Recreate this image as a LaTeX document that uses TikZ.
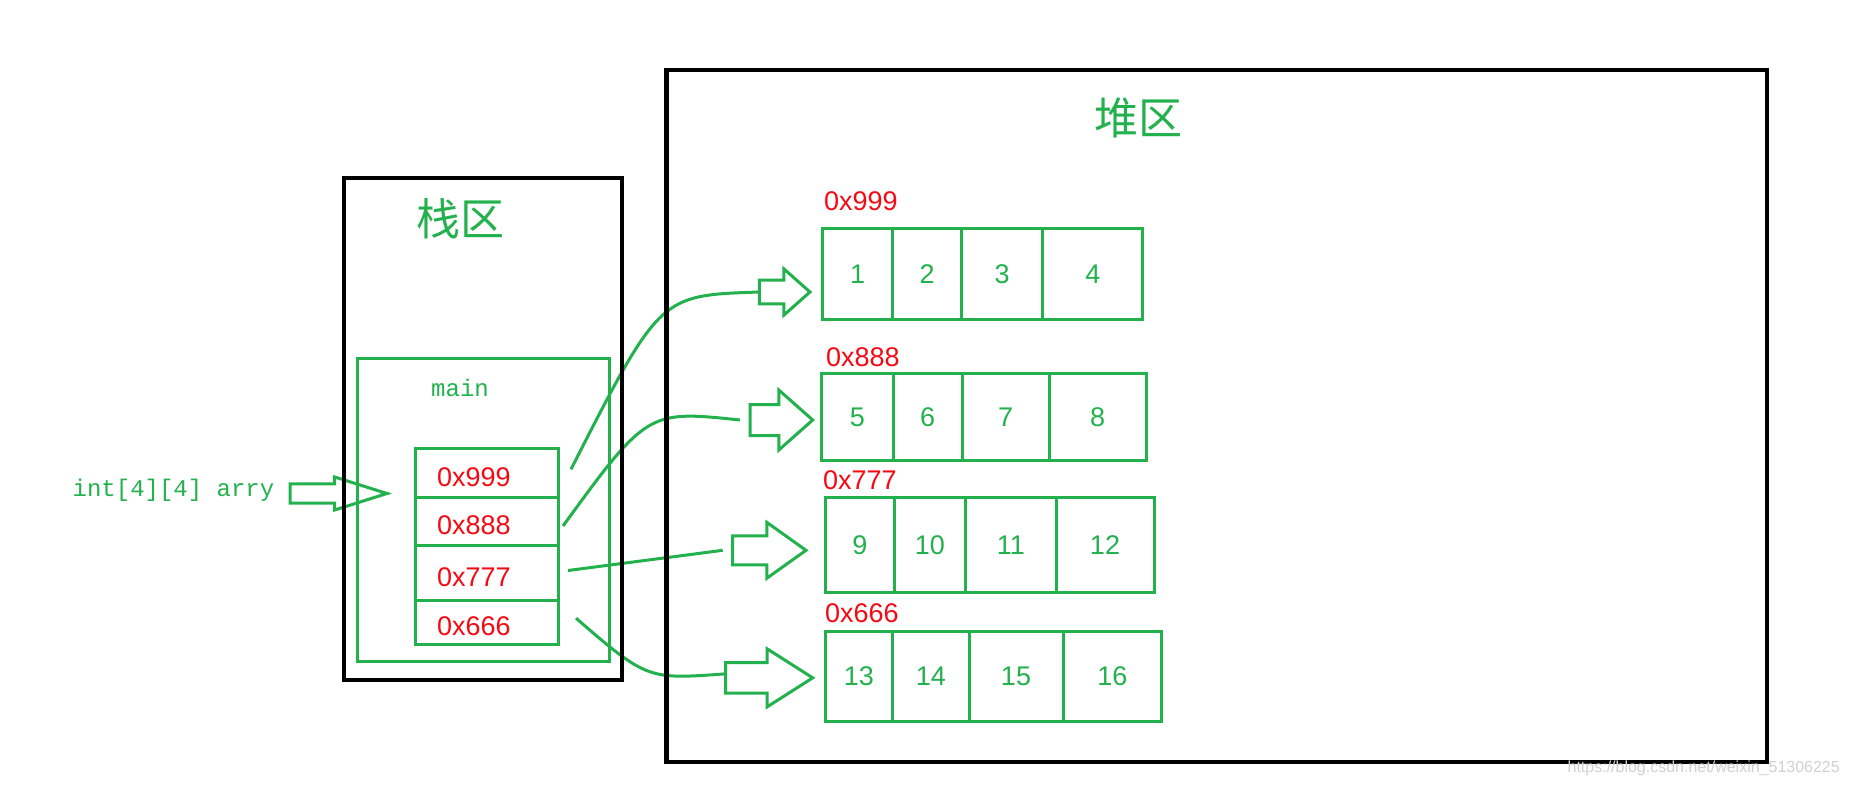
\documentclass[tikz,border=0pt]{standalone}
\usepackage{fontspec}
\setmainfont{Liberation Sans}
\setmonofont{Liberation Mono}
\newfontfamily\cjk{Noto Sans CJK SC}
\usepackage{tikz}
\usetikzlibrary{shapes, arrows}
\usetikzlibrary{positioning}
\definecolor{pgreen}{RGB}{34,177,76}
\definecolor{pred}{RGB}{245,10,20}
\tikzstyle{area} = [rectangle, draw = black, line width = 4.6, inner sep = 0,
  outer sep = 0, anchor = north west]
\tikzstyle{mainbox} = [rectangle, draw = pgreen, line width = 3, inner sep = 0,
  outer sep = 0, anchor = north west]
\tikzstyle{slot} = [
  rectangle, draw = pgreen, line width = 3,
  minimum width = 143, text width = 99, inner xsep = 22, inner ysep = 0,
  outer sep = 0, align = left, text height = 27, text depth = 0,
  text = pred, font = \fontsize{27}{32}\selectfont
]
\tikzstyle{memcell} = [rectangle, draw = pgreen, line width = 3, inner sep = 0,
  outer sep = 0, text = pgreen, font = \fontsize{27}{32}\selectfont]
\tikzstyle{addr} = [inner sep = 0, anchor = west, text = pred,
  font = \fontsize{27}{32}\selectfont]
\tikzstyle{title} = [inner sep = 0, text = pgreen, font = \cjk\fontsize{44}{50}\selectfont]
\tikzstyle{code} = [inner sep = 0, text = pgreen, font = \ttfamily\fontsize{24}{28}\selectfont]
\tikzstyle{fat} = [
  single arrow, draw = pgreen, line width = 3,
  inner sep = 0, outer sep = 0, single arrow head indent = 0, anchor = tail
]
\tikzstyle{link} = [draw = pgreen, line width = 3]

\begin{document}
\begin{tikzpicture}[x = 1pt, y = -1pt, node distance = 0]
      \fill [white] (0, 0) rectangle (1850, 787);
      \useasboundingbox (0, 0) rectangle (1850, 787);

      % stack side
      \node [title] (stack-title) at (460, 219) {栈区};
      \node [mainbox, minimum width = 252, minimum height = 303] (frame-main) at (357, 358) {};
      \node [code] (main-label) at (460, 388) {main};
      \node [slot, minimum height = 48.5, anchor = north west] (slot-1) at (415, 448.5) {0x999};
      \node [slot, minimum height = 48, below = 0pt of slot-1] (slot-2) {0x888};
      \node [slot, minimum height = 55, below = 0pt of slot-2] (slot-3) {0x777};
      \node [slot, minimum height = 44.3, below = 0pt of slot-3] (slot-4) {0x666};
      \node [code] (arry) at (173.5, 490) {int[4][4] arry};
      \node [fat, minimum height = 97, inner ysep = 8.2, single arrow head extend = 6.8,
        single arrow tip angle = 35] (fat-0) at (290, 493.5) {};

      % heap side
      \node [title] (heap-title) at (1138, 118) {堆区};
      % 0x999
      \node [addr] (addr-1) at (824, 201) {0x999};
      \node [memcell, minimum width = 70, minimum height = 90.6, anchor = north west] (cell-1-a) at (822.6, 228.8) {1};
      \node [memcell, minimum width = 68.9, minimum height = 90.6, right = 0pt of cell-1-a] (cell-1-b) {2};
      \node [memcell, minimum width = 81.2, minimum height = 90.6, right = 0pt of cell-1-b] (cell-1-c) {3};
      \node [memcell, minimum width = 100.1, minimum height = 90.6, right = 0pt of cell-1-c] (cell-1-d) {4};
      % 0x888
      \node [addr] (addr-2) at (826, 357) {0x888};
      \node [memcell, minimum width = 71.5, minimum height = 87.8, anchor = north west] (cell-2-a) at (821.5, 373) {5};
      \node [memcell, minimum width = 69, minimum height = 87.8, right = 0pt of cell-2-a] (cell-2-b) {6};
      \node [memcell, minimum width = 87, minimum height = 87.8, right = 0pt of cell-2-b] (cell-2-c) {7};
      \node [memcell, minimum width = 97, minimum height = 87.8, right = 0pt of cell-2-c] (cell-2-d) {8};
      % 0x777
      \node [addr] (addr-3) at (823, 480.5) {0x777};
      \node [memcell, minimum width = 68.3, minimum height = 95.5, anchor = north west] (cell-3-a) at (825.7, 497) {9};
      \node [memcell, minimum width = 71.7, minimum height = 95.5, right = 0pt of cell-3-a] (cell-3-b) {10};
      \node [memcell, minimum width = 90.3, minimum height = 95.5, right = 0pt of cell-3-b] (cell-3-c) {11};
      \node [memcell, minimum width = 98, minimum height = 95.5, right = 0pt of cell-3-c] (cell-3-d) {12};
      % 0x666
      \node [addr] (addr-4) at (825, 613) {0x666};
      \node [memcell, minimum width = 67.6, minimum height = 90, anchor = north west] (cell-4-a) at (825, 631) {13};
      \node [memcell, minimum width = 76.4, minimum height = 90, right = 0pt of cell-4-a] (cell-4-b) {14};
      \node [memcell, minimum width = 94, minimum height = 90, right = 0pt of cell-4-b] (cell-4-c) {15};
      \node [memcell, minimum width = 98.7, minimum height = 90, right = 0pt of cell-4-c] (cell-4-d) {16};

      % fat arrows in front of the rows
      \node [fat, minimum height = 50.7, inner ysep = 10.3, single arrow head extend = 11.35,
        single arrow tip angle = 83] (fat-1) at (759.3, 292) {};
      \node [fat, minimum height = 62.7, inner ysep = 14, single arrow head extend = 14.35,
        single arrow tip angle = 83] (fat-2) at (750, 420) {};
      \node [fat, minimum height = 73.3, inner ysep = 13, single arrow head extend = 13.35,
        single arrow tip angle = 71] (fat-3) at (732.7, 550.3) {};
      \node [fat, minimum height = 87, inner ysep = 13.85, single arrow head extend = 13.65,
        single arrow tip angle = 65] (fat-4) at (725.7, 677.85) {};

      \draw [link] ([xshift = 13, yshift = 3.5]slot-1.east) to [out = 63, in = 182,
        out distance = 197, in distance = 99] (fat-1.tail);
      \draw [link] ([xshift = 5, yshift = -5]slot-2.east) to [out = 54, in = 174,
        out distance = 143, in distance = 92] ([xshift = -10]fat-2.tail);
      \draw [link] ([xshift = 10, yshift = 2]slot-3.east) -- ([xshift = -10]fat-3.tail);
      \draw [link] ([xshift = 18, yshift = 4]slot-4.east) to [out = -41, in = 184,
        out distance = 95, in distance = 77] ([yshift = 4]fat-4.tail);

      % the two areas go on top
      \node [area, minimum width = 278, minimum height = 502] (stack) at (344, 178) {};
      \node [area, minimum width = 1100.4, minimum height = 692] (heap) at (666.6, 70) {};

      \node [inner sep = 0, anchor = east, text = black!18, font = \fontsize{16}{18}\selectfont]
        (mark) at (1840, 768) {https://blog.csdn.net/weixin\_51306225};
    \end{tikzpicture}
\end{document}
